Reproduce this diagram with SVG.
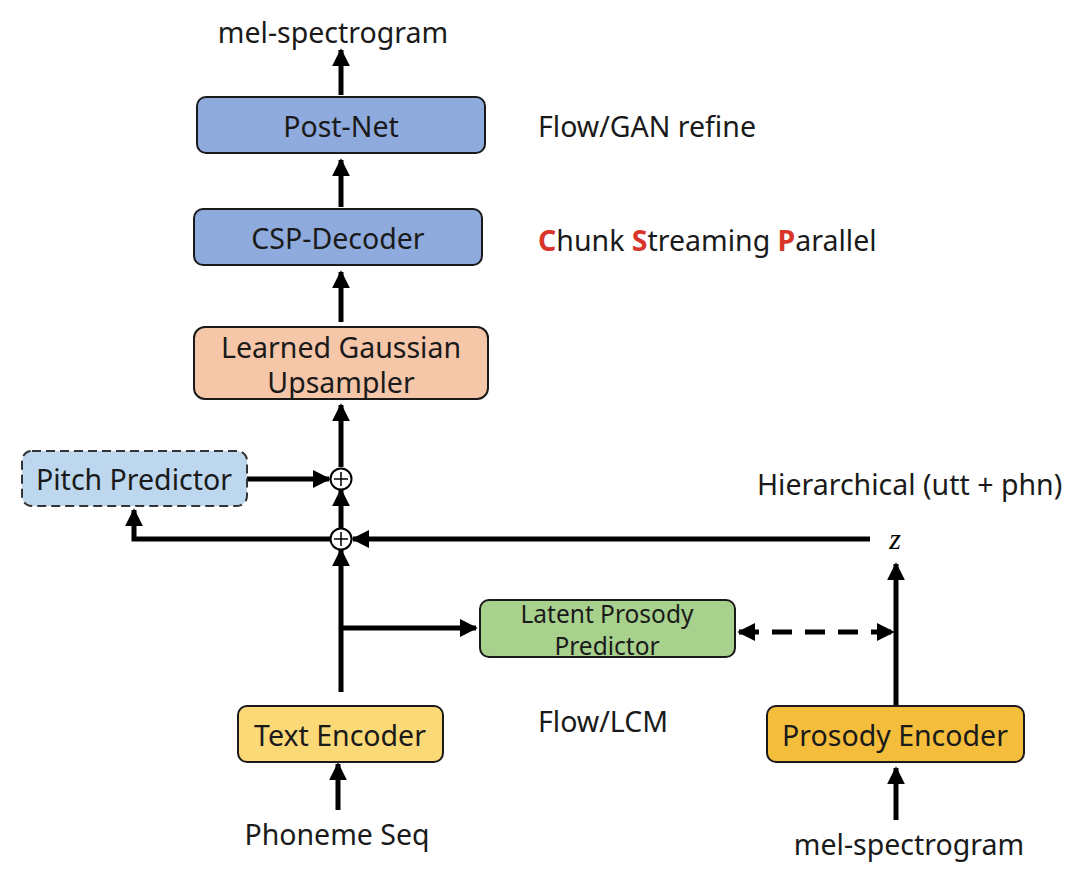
<svg xmlns="http://www.w3.org/2000/svg" width="1080" height="874" viewBox="0 0 1080 874">
<defs>
<marker id="ah" viewBox="0 0 10 10" refX="9" refY="5" markerWidth="3.6" markerHeight="3.6" orient="auto-start-reverse" markerUnits="strokeWidth">
<path d="M0,0 L10,5 L0,10 Z" fill="#000"/>
</marker>
<style>
.box{stroke:#1a1a1a;stroke-width:2}
.t{font-family:"Noto Sans","Open Sans",sans-serif;font-size:28.5px;fill:#1a1a1a;text-anchor:middle;dominant-baseline:central}
.l{font-family:"Noto Sans","Open Sans",sans-serif;font-size:28.5px;fill:#1a1a1a;dominant-baseline:central}
.c{stroke:#000;stroke-width:5;fill:none}
.red{fill:#d9362b;font-weight:bold}
</style>
</defs>
<rect width="1080" height="874" fill="#fff"/>
<g id="connectors">
<line class="c" x1="341" y1="95" x2="341" y2="50" marker-end="url(#ah)"/>
<line class="c" x1="341" y1="207" x2="341" y2="160" marker-end="url(#ah)"/>
<line class="c" x1="341" y1="322" x2="341" y2="272" marker-end="url(#ah)"/>
<line class="c" x1="341" y1="467" x2="341" y2="405" marker-end="url(#ah)"/>
<line class="c" x1="341" y1="528" x2="341" y2="490" marker-end="url(#ah)"/>
<line class="c" x1="341" y1="692" x2="341" y2="550" marker-end="url(#ah)"/>
<polyline class="c" points="341,628 476,628" marker-end="url(#ah)"/>
<line class="c" x1="247" y1="479" x2="329" y2="479" marker-end="url(#ah)"/>
<polyline class="c" points="330,539 134,539 134,510" marker-end="url(#ah)"/>
<line class="c" x1="870" y1="539" x2="353" y2="539" marker-end="url(#ah)"/>
<line class="c" x1="896" y1="705" x2="896" y2="564" marker-end="url(#ah)"/>
<line class="c" x1="739" y1="632" x2="893" y2="632" stroke-dasharray="20,13" marker-start="url(#ah)" marker-end="url(#ah)"/>
<line class="c" x1="338" y1="810" x2="338" y2="764" marker-end="url(#ah)"/>
<line class="c" x1="896" y1="820" x2="896" y2="768" marker-end="url(#ah)"/>
</g>
<g id="sum1"><circle cx="341" cy="479" r="10.5" fill="#fff" stroke="#000" stroke-width="2"/><path d="M334,479 H348 M341,472 V486" stroke="#000" stroke-width="1.5"/></g>
<g id="sum2"><circle cx="341" cy="539" r="10.5" fill="#fff" stroke="#000" stroke-width="2"/><path d="M334,539 H348 M341,532 V546" stroke="#000" stroke-width="1.5"/></g>
<g id="postnet"><rect class="box" x="197" y="97" width="288" height="56" rx="9" fill="#8faadc"/><text class="t" x="341" y="126">Post-Net</text></g>
<g id="cspdecoder"><rect class="box" x="194" y="209" width="288" height="56" rx="9" fill="#8faadc"/><text class="t" x="338" y="238">CSP-Decoder</text></g>
<g id="upsampler"><rect class="box" x="194" y="327" width="294" height="72" rx="11" fill="#f5c6a8"/><text class="t" x="341" y="347">Learned Gaussian</text><text class="t" x="341" y="382">Upsampler</text></g>
<g id="pitch"><rect x="22" y="451" width="225" height="55" rx="10" fill="#bdd7ee" stroke="#333" stroke-width="2" stroke-dasharray="9,5"/><text class="t" x="134" y="479">Pitch Predictor</text></g>
<g id="latent"><rect class="box" x="480" y="600" width="255" height="57" rx="9" fill="#a9d18e"/><text class="t" x="607" y="613" style="font-size:24.5px">Latent Prosody</text><text class="t" x="607" y="645" style="font-size:24.5px">Predictor</text></g>
<g id="textenc"><rect class="box" x="238" y="706" width="205" height="56" rx="9" fill="#fcd977"/><text class="t" x="340" y="735">Text Encoder</text></g>
<g id="prosodyenc"><rect class="box" x="767" y="706" width="257" height="56" rx="9" fill="#f5bd3c"/><text class="t" x="895" y="735">Prosody Encoder</text></g>
<g id="labels">
<text class="t" x="333" y="32">mel-spectrogram</text>
<text class="l" x="538" y="126">Flow/GAN refine</text>
<text class="l" x="538" y="240"><tspan class="red">C</tspan>hunk <tspan class="red">S</tspan>treaming <tspan class="red">P</tspan>arallel</text>
<text class="l" x="757" y="484">Hierarchical (utt + phn)</text>
<text x="895" y="538" style="font-family:'Liberation Serif',serif;font-style:italic;font-size:30px;text-anchor:middle;dominant-baseline:central">z</text>
<text class="l" x="538" y="721">Flow/LCM</text>
<text class="t" x="337" y="834">Phoneme Seq</text>
<text class="t" x="909" y="844">mel-spectrogram</text>
</g>
</svg>
